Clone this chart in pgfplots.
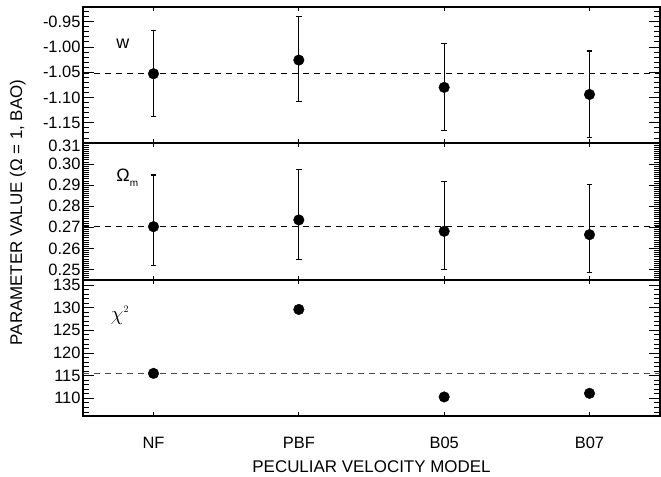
\documentclass[border=0pt]{standalone}
\usepackage{fontspec}
\setmainfont{Liberation Sans}
\usepackage{pgfplots}
\pgfplotsset{compat=1.18}
\pgfplotsset{
  panel/.style={
    scale only axis, width=577bp,
    xmin=-0.485, xmax=3.485,
    xtick={0,1,2,3}, xticklabels={},
    tick align=inside,
    axis line style={line width=1.1bp},
    major tick length=11bp, minor tick length=6bp,
    every tick/.style={black, line width=0.8bp},
    xtick style={/pgfplots/major tick length=4bp},
    tick label style={font=\fontsize{16.5}{19}\selectfont},
    yticklabel style={xshift=1bp},
    /pgf/number format/assume math mode=true,
    clip=false,
  },
  pts/.style={only marks, mark=*, mark size=5.3bp, black,
    error bars/.cd, y dir=both, y explicit,
    error bar style={line width=1.1bp, black},
    error mark options={mark size=2.8bp, line width=1.1bp, black, rotate=90}},
  ref/.style={black, line width=1.1bp, dash pattern=on 6bp off 5bp},
}
\begin{document}
\begin{tikzpicture}
\begin{axis}[panel, name=top, height=136bp,
  ymin=-1.19, ymax=-0.921,
  ytick={-1.15,-1.10,-1.05,-1.00,-0.95},
  minor ytick={-1.19,-1.18,...,-0.92},
  yticklabel style={/pgf/number format/fixed, /pgf/number format/fixed zerofill, /pgf/number format/precision=2},
]
\addplot[ref] coordinates {(-0.485,-1.053) (3.485,-1.053)};
\addplot[pts] coordinates {
  (0,-1.053) += (0,0.085) -= (0,0.085)
  (1,-1.026) += (0,0.087) -= (0,0.082)
  (2,-1.080) += (0,0.087) -= (0,0.086)
  (3,-1.094) += (0,0.086) -= (0,0.086)
};
\node[font=\fontsize{18}{20}\selectfont] at (axis cs:-0.21,-0.993) {w};
\end{axis}
\begin{axis}[panel, name=mid, height=137bp, at={(top.south west)}, anchor=north west,
  ymin=0.245, ymax=0.31,
  ytick={0.25,0.26,0.27,0.28,0.29,0.30},
  extra y ticks={0.31},
  extra y tick style={yticklabel style={yshift=-3bp}},
  minor ytick={0.245,0.246,...,0.3095},
  yticklabel style={/pgf/number format/fixed, /pgf/number format/fixed zerofill, /pgf/number format/precision=2},
  ylabel={PARAMETER VALUE (Ω = 1, BAO)},
  ylabel style={at={(axis description cs:-0.113,0.493)}, anchor=center, font=\fontsize{17}{20}\selectfont},
]
\addplot[ref] coordinates {(-0.485,0.2705) (3.485,0.2705)};
\addplot[pts] coordinates {
  (0,0.2703) += (0,0.0245) -= (0,0.0186)
  (1,0.2735) += (0,0.0241) -= (0,0.0186)
  (2,0.2681) += (0,0.0235) -= (0,0.0181)
  (3,0.2665) += (0,0.0240) -= (0,0.0181)
};
\node[font=\fontsize{18}{20}\selectfont] at (axis cs:-0.18,0.2935) {Ω\raisebox{-0.5ex}{\fontsize{10}{12}\selectfont m}};
\end{axis}
\begin{axis}[panel, name=bot, height=136bp, at={(mid.south west)}, anchor=north west,
  ymin=106.1, ymax=136.1,
  ytick={110,115,120,125,130,135},
  minor ytick={107,108,...,136},
  xticklabels={NF,PBF,B05,B07},
  xticklabel style={yshift=-18bp},
  xlabel={PECULIAR VELOCITY MODEL},
  xlabel style={at={(axis description cs:0.5,-0.37)}, anchor=center, font=\fontsize{17}{20}\selectfont},
]
\addplot[ref, black!70] coordinates {(-0.485,115.5) (3.485,115.5)};
\addplot[only marks, mark=*, mark size=5.3bp, black] coordinates {
  (0,115.5) (1,129.6) (2,110.3) (3,111.1)
};
\node[font=\fontsize{20}{22}\selectfont] at (axis cs:-0.23,128.3) {$\chi^{\scriptscriptstyle 2}$};
\end{axis}
\pgfresetboundingbox
\path ([shift={(-83bp,7bp)}]top.north west) rectangle ([shift={(1bp,-61bp)}]bot.south east);
\end{tikzpicture}
\end{document}
